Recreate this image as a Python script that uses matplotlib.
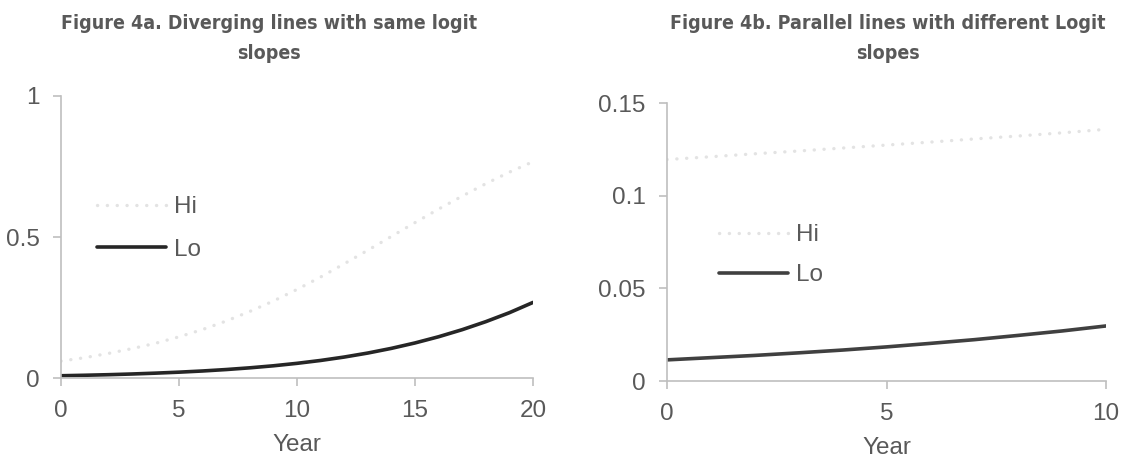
import matplotlib
matplotlib.use("Agg")
import matplotlib.pyplot as plt

# ---- data ----
years_a = list(range(0, 21))
hi_a = [0.060, 0.072, 0.087, 0.104, 0.123, 0.146, 0.172, 0.202, 0.236, 0.273,
        0.314, 0.358, 0.405, 0.453, 0.502, 0.551, 0.599, 0.645, 0.689, 0.730, 0.767]
lo_a = [0.008, 0.0097, 0.0117, 0.0142, 0.0172, 0.0207, 0.0249, 0.0300, 0.0361, 0.0433,
        0.0520, 0.0622, 0.0743, 0.0885, 0.1051, 0.1243, 0.1463, 0.1714, 0.1998, 0.2316, 0.2680]

years_b = list(range(0, 11))
hi_b = [0.1195, 0.1210, 0.1226, 0.1241, 0.1257, 0.1273, 0.1289, 0.1306, 0.1322, 0.1339, 0.1358]
lo_b = [0.0114, 0.0126, 0.0138, 0.0152, 0.0167, 0.0184, 0.0203, 0.0223, 0.0246, 0.0270, 0.0297]

xticks_a = [0, 5, 10, 15, 20]
yticks_a = [0, 0.5, 1]
yticklabels_a = ["0", "0.5", "1"]
xticks_b = [0, 5, 10]
yticks_b = [0, 0.05, 0.1, 0.15]
yticklabels_b = ["0", "0.05", "0.1", "0.15"]

title_a = "Figure 4a. Diverging lines with same logit\nslopes"
title_b = "Figure 4b. Parallel lines with different Logit\nslopes"
series_names = ["Hi", "Lo"]

# ---- style ----
TXT = "#595959"
SPINE = "#bfbfbf"
HI_COL = "#e3e3e3"
FS = 17.5
plt.rcParams["font.family"] = ["Liberation Sans", "DejaVu Sans"]

W, H = 1123, 461
fig = plt.figure(figsize=(W / 100, H / 100), dpi=100)

def px_axes(l, r, b, t):
    return fig.add_axes([l / W, 1 - b / H, (r - l) / W, (b - t) / H])

ax1 = px_axes(61, 533, 378, 96)
ax2 = px_axes(667, 1106, 381, 103)

def style(ax, xt, yt, ytl, xlim, ylim):
    ax.set_xlim(*xlim)
    ax.set_ylim(*ylim)
    ax.set_xticks(xt)
    ax.set_xticklabels([str(v) for v in xt])
    ax.set_yticks(yt)
    ax.set_yticklabels(ytl)
    for s in ["top", "right"]:
        ax.spines[s].set_visible(False)
    for s in ["left", "bottom"]:
        ax.spines[s].set_color(SPINE)
        ax.spines[s].set_linewidth(1.2)
    ax.tick_params(axis="both", direction="out", color=SPINE, width=1.2,
                   length=5.5, labelsize=FS, labelcolor=TXT)
    ax.tick_params(axis="y", pad=10)
    ax.tick_params(axis="x", pad=10)
    ax.set_xlabel("Year", fontsize=FS, color=TXT, labelpad=9)

def draw(ax, x, hi, lo, locol):
    ax.plot(x, hi, color=HI_COL, lw=2.4, linestyle=(0, (0.05, 2.9)),
            dash_capstyle="round", solid_capstyle="round", label=series_names[0])
    ax.plot(x, lo, color=locol, lw=2.6, solid_capstyle="round", label=series_names[1])

draw(ax1, years_a, hi_a, lo_a, "#262626")
draw(ax2, years_b, hi_b, lo_b, "#404040")
style(ax1, xticks_a, yticks_a, yticklabels_a, (0, 20), (0, 1))
style(ax2, xticks_b, yticks_b, yticklabels_b, (0, 10), (0, 0.15))

leg1 = ax1.legend(loc="upper left", bbox_to_anchor=((97 - 61) / 472, 1 - (196 - 96) / 282),
                  frameon=False, fontsize=FS, handlelength=2.85, handletextpad=0.3,
                  labelspacing=0.85, borderpad=0, borderaxespad=0)
leg2 = ax2.legend(loc="upper left", bbox_to_anchor=((719 - 667) / 439, 1 - (224 - 103) / 278),
                  frameon=False, fontsize=FS, handlelength=2.85, handletextpad=0.3,
                  labelspacing=0.75, borderpad=0, borderaxespad=0)
for leg in (leg1, leg2):
    for t in leg.get_texts():
        t.set_color(TXT)

title_kw = dict(ha="center", va="top", fontsize=14, fontweight="bold", color=TXT,
                family=["DejaVu Sans"], fontstretch="condensed", linespacing=1.75)
fig.text(269 / W, 1 - 14 / H, title_a, **title_kw)
fig.text(888 / W, 1 - 14 / H, title_b, **title_kw)

fig.savefig("out.png", dpi=100, facecolor="white")
